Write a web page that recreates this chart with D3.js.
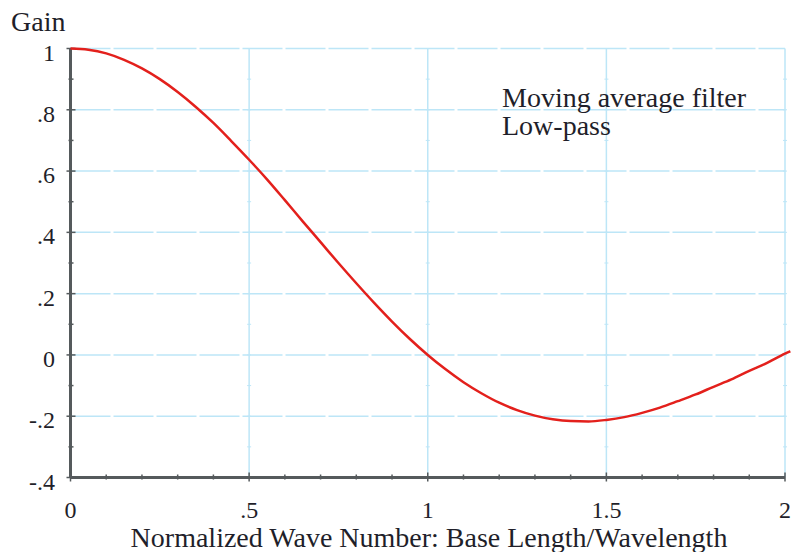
<!DOCTYPE html>
<html>
<head>
<meta charset="utf-8">
<script src="https://cdn.jsdelivr.net/npm/d3@7"></script>
</head>
<body style="margin:0;background:#fff">
<svg id="chart" width="792" height="552" style="display:block"></svg>
<script>
// Data
const waveNumber = [0, 0.05, 0.1, 0.15, 0.2, 0.25, 0.3, 0.35, 0.4, 0.45, 0.5, 0.55, 0.6, 0.65, 0.7, 0.75, 0.8, 0.85, 0.9, 0.95,
                    1.0, 1.05, 1.1, 1.15, 1.2, 1.25, 1.3, 1.35, 1.4, 1.45, 1.5, 1.55, 1.6, 1.65, 1.7, 1.75, 1.8, 1.85, 1.9, 1.95, 2.0, 2.015];
const gain = [1.0, 0.996, 0.984, 0.963, 0.935, 0.90, 0.858, 0.81, 0.757, 0.698, 0.637, 0.573, 0.505, 0.436, 0.368, 0.30, 0.234, 0.17, 0.109, 0.052,
              0.0, -0.047, -0.089, -0.125, -0.156, -0.18, -0.198, -0.21, -0.216, -0.217, -0.212, -0.203, -0.189, -0.172, -0.151, -0.129, -0.104, -0.08, -0.052, -0.026, 0.004, 0.012];
const xTickValues = [0, 0.5, 1, 1.5, 2];
const xTickLabels = ["0", ".5", "1", "1.5", "2"];
const yTickValues = [-0.4, -0.2, 0, 0.2, 0.4, 0.6, 0.8, 1];
const yTickLabels = ["-.4", "-.2", "0", ".2", ".4", ".6", ".8", "1"];
const xMinorTicks = d3.range(0, 21).map(i => i / 10);
const yMinorTicks = d3.range(-4, 11).map(i => i / 10);
const annotationLines = ["Moving average filter", "Low-pass"];
const xTitle = "Normalized Wave Number: Base Length/Wavelength";
const yTitle = "Gain";

const svg = d3.select("#chart");
const x = d3.scaleLinear().domain([0, 2]).range([70.5, 785]);
const y = d3.scaleLinear().domain([-0.4, 1]).range([477.5, 48.5]);

const gridColor = "#bde6f7";
const axisColor = "#555a5c";
const textColor = "#1f1f2a";
const fontFamily = '"Liberation Serif"';
const tickFs = 24;
const titleFs = 28;

// vertical grid lines (solid)
svg.append("g").selectAll("line").data(xTickValues.filter(v => v > 0)).join("line")
  .attr("x1", d => x(d)).attr("x2", d => x(d))
  .attr("y1", y(1)).attr("y2", y(-0.4))
  .attr("stroke", gridColor).attr("stroke-width", 1.5);
// small marks along vertical grid lines
svg.append("g").selectAll("line")
  .data(xTickValues.filter(v => v > 0).flatMap(v => yMinorTicks.filter(t => t > -0.4 && t < 1).map(t => [v, t])))
  .join("line")
  .attr("x1", d => x(d[0]) - 2).attr("x2", d => x(d[0]) + 2)
  .attr("y1", d => y(d[1])).attr("y2", d => y(d[1]))
  .attr("stroke", gridColor).attr("stroke-width", 1);

// horizontal grid lines (dashed)
svg.append("g").selectAll("line").data(yTickValues.filter(v => v > -0.4)).join("line")
  .attr("x1", x(0)).attr("x2", x(2))
  .attr("y1", d => y(d)).attr("y2", d => y(d))
  .attr("stroke", gridColor).attr("stroke-width", 1.5)
  .attr("stroke-dasharray", "40,3");

// axes lines
svg.append("line").attr("x1", x(0)).attr("x2", x(0)).attr("y1", y(1)).attr("y2", y(-0.4))
  .attr("stroke", axisColor).attr("stroke-width", 3);
svg.append("line").attr("x1", x(0)).attr("x2", x(2)).attr("y1", y(-0.4)).attr("y2", y(-0.4))
  .attr("stroke", axisColor).attr("stroke-width", 3);

// y axis ticks
svg.append("g").selectAll("line").data(yMinorTicks).join("line")
  .attr("x1", d => x(0) - (Math.round(d * 10) % 2 === 0 ? 4 : 2))
  .attr("x2", d => x(0) + (Math.round(d * 10) % 2 === 0 ? 5 : 3))
  .attr("y1", d => y(d)).attr("y2", d => y(d))
  .attr("stroke", axisColor).attr("stroke-width", 1.5);
// x axis ticks
svg.append("g").selectAll("line").data(xMinorTicks).join("line")
  .attr("x1", d => x(d)).attr("x2", d => x(d))
  .attr("y1", d => y(-0.4) - (Math.round(d * 10) % 5 === 0 ? 5 : 3))
  .attr("y2", d => y(-0.4) + (Math.round(d * 10) % 5 === 0 ? 4 : 2))
  .attr("stroke", axisColor).attr("stroke-width", 1.5);

// tick labels
svg.append("g").selectAll("text").data(yTickValues).join("text")
  .attr("x", 55).attr("y", d => y(d) + 12)
  .attr("text-anchor", "end").attr("font-size", tickFs).attr("fill", textColor)
  .style("font-family", fontFamily)
  .text((d, i) => yTickLabels[i]);
svg.append("g").selectAll("text").data(xTickValues).join("text")
  .attr("x", d => x(d)).attr("y", 518)
  .attr("text-anchor", "middle").attr("font-size", tickFs).attr("fill", textColor)
  .style("font-family", fontFamily)
  .text((d, i) => xTickLabels[i]);

// titles
svg.append("text").attr("x", 11).attr("y", 31).attr("font-size", titleFs).attr("fill", textColor)
  .style("font-family", fontFamily).text(yTitle);
svg.append("text").attr("x", 429).attr("y", 547).attr("text-anchor", "middle").attr("font-size", titleFs).attr("fill", textColor)
  .style("font-family", fontFamily).text(xTitle);

// annotation
svg.append("g").selectAll("text").data(annotationLines).join("text")
  .attr("x", 502).attr("y", (d, i) => 107 + i * 28)
  .attr("font-size", titleFs).attr("fill", textColor)
  .style("font-family", fontFamily).text(d => d);

// curve
const line = d3.line().x((d, i) => x(waveNumber[i])).y(d => y(d)).curve(d3.curveMonotoneX);
svg.append("path").datum(gain)
  .attr("fill", "none").attr("stroke", "#e3201c").attr("stroke-width", 2.5)
  .attr("d", line);
</script>
</body>
</html>
